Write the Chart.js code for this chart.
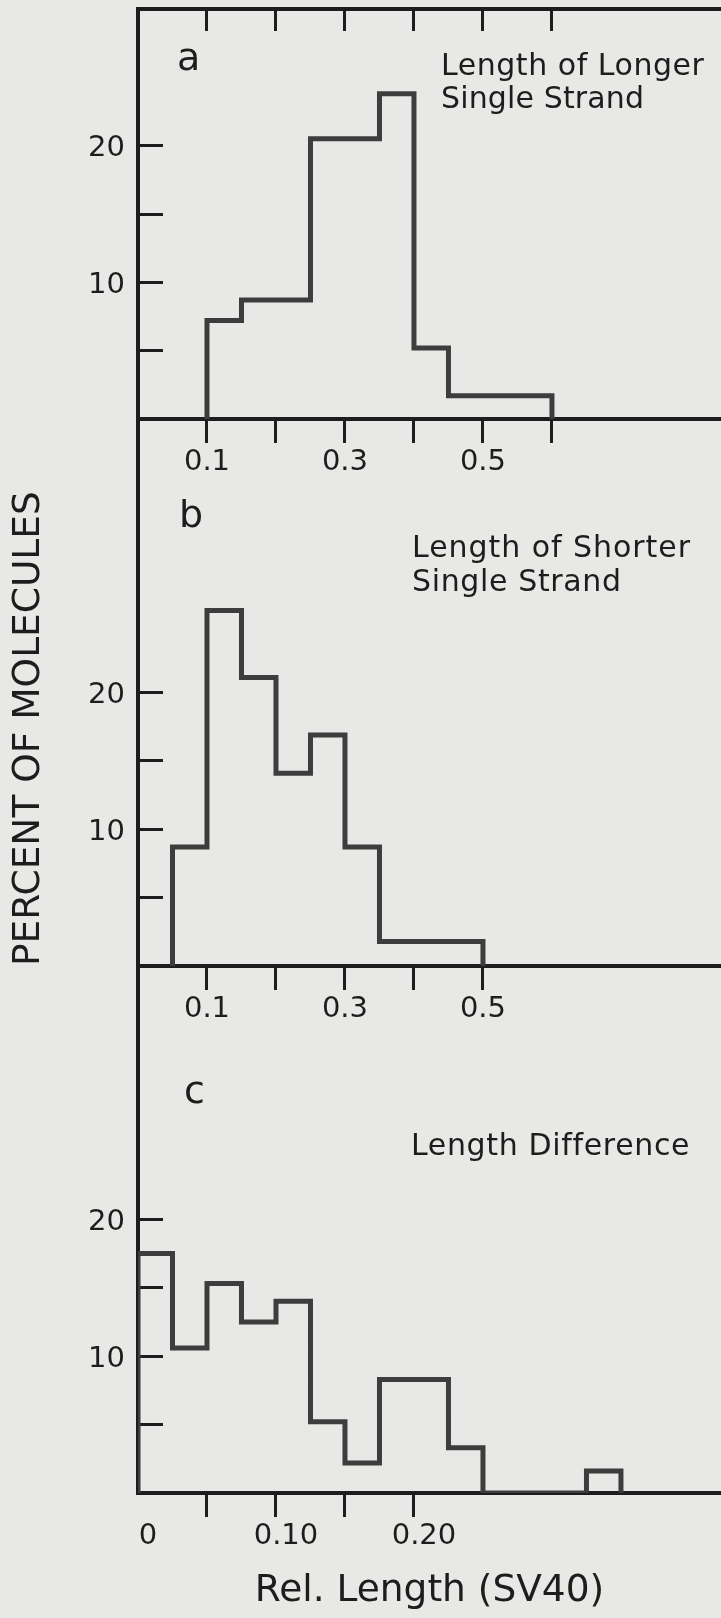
<!DOCTYPE html>
<html>
<head>
<meta charset="utf-8">
<title>Single strand lengths</title>
<script src="https://cdn.jsdelivr.net/npm/chart.js@4.4.1/dist/chart.umd.min.js"></script>
<style>
  html, body { margin: 0; padding: 0; background: #e8e8e6; overflow: hidden; }
  #wrap { position: relative; width: 721px; height: 1618px; }
  #wrap canvas { position: absolute; left: 0; top: 0; }
</style>
</head>
<body>
<div id="wrap">
  <canvas id="panelA" width="721" height="1618"></canvas>
  <canvas id="panelB" width="721" height="1618"></canvas>
  <canvas id="panelC" width="721" height="1618"></canvas>
</div>
<script>
// --- data (percent of molecules per bin) ---

// a: length of longer single strand, bins 0.05 wide (left edges)
const binsA = [0.10, 0.15, 0.20, 0.25, 0.30, 0.35, 0.40, 0.45, 0.50, 0.55];
const percentA = [7.2, 8.7, 8.7, 20.5, 20.5, 23.8, 5.2, 1.7, 1.7, 1.7];
const binWidthA = 0.05;

// b: length of shorter single strand
const binsB = [0.05, 0.10, 0.15, 0.20, 0.25, 0.30, 0.35, 0.40, 0.45];
const percentB = [8.7, 26.0, 21.1, 14.1, 16.9, 8.7, 1.8, 1.8, 1.8];
const binWidthB = 0.05;

// c: length difference, bins 0.025 wide
const binsC = [0, 0.025, 0.05, 0.075, 0.10, 0.125, 0.15, 0.175, 0.20, 0.225, 0.25, 0.275, 0.30, 0.325];
const percentC = [17.5, 10.6, 15.3, 12.5, 14.0, 5.2, 2.2, 8.3, 8.3, 3.3, 0, 0, 0, 1.6];
const binWidthC = 0.025;

// tick marks and the labels shown on them
const xTicksA = [0.1, 0.2, 0.3, 0.4, 0.5, 0.6];
const xTicksB = [0.1, 0.2, 0.3, 0.4, 0.5];
const xTicksC = [0, 0.05, 0.10, 0.15, 0.20];
const xLabelsAB = ['0.1', '0.3', '0.5'];
const xLabelsC = ['0', '0.10', '0.20'];
const yTicks = [5, 10, 15, 20];
const yLabels = ['10', '20'];

// --- look ---
const FONT = "'DejaVu Sans', sans-serif";
const ink = '#1d1d1d';
const barInk = '#3d3d3d';
const H = 1618;
const FRAME_LEFT = 138;
const TICK_FONT = 29;

// histogram outline as a stepped line: up at the first edge, down at the last
function outline(bins, values, w) {
  const pts = [{ x: bins[0], y: 0 }];
  bins.forEach((b, i) => pts.push({ x: b, y: values[i] }));
  pts.push({ x: bins[bins.length - 1] + w, y: 0 });
  return pts;
}

function zeroPad(s) {
  s.paddingTop = 0; s.paddingBottom = 0; s.paddingLeft = 0; s.paddingRight = 0;
}

// panel letters and captions
const panelText = {
  id: 'panelText',
  afterDraw(chart, args, opts) {
    const ctx = chart.ctx;
    (opts.items || []).forEach(t => {
      ctx.save();
      ctx.font = t.size + 'px ' + FONT;
      ctx.fillStyle = ink;
      ctx.textBaseline = 'alphabetic';
      ctx.textAlign = 'left';
      if (t.width) {
        const w0 = ctx.measureText(t.text).width;
        const n = t.text.length;
        if ('letterSpacing' in ctx) {
          ctx.letterSpacing = ((t.width - w0) / (n - 1)).toFixed(2) + 'px';
          ctx.fillText(t.text, t.x, t.y);
        } else {
          ctx.translate(t.x, t.y);
          ctx.scale(t.width / w0, 1);
          ctx.fillText(t.text, 0, 0);
        }
      } else {
        ctx.fillText(t.text, t.x, t.y);
      }
      ctx.restore();
    });
  }
};

function makePanel(id, o) {
  const scales = {
    x: {
      type: 'linear', position: 'bottom', min: 0, max: o.xMax,
      afterBuildTicks: s => { s.ticks = o.xTicks.map(v => ({ value: v })); },
      afterFit: s => { s.height = H - o.bottom; zeroPad(s); },
      grid: {
        drawOnChartArea: false, drawTicks: true, tickLength: 24, tickWidth: 3,
        tickColor: c => (c.tick && c.tick.value === 0) ? 'rgba(0,0,0,0)' : ink
      },
      border: { display: true, color: ink, width: 4 },
      ticks: {
        autoSkip: false, maxRotation: 0, minRotation: 0, padding: 2,
        labelOffset: o.labelOffset || 0, color: ink,
        font: { family: FONT, size: TICK_FONT },
        callback: v => { const s = o.fmt(v); return o.xLabels.includes(s) ? s : ''; }
      },
      title: o.xTitle ? {
        display: true, text: o.xTitle, color: ink,
        font: { family: FONT, size: 37.5, lineHeight: 1.2 },
        padding: { top: 0, bottom: 4 }
      } : { display: false }
    },
    y: {
      type: 'linear', position: 'left', min: 0, max: o.yMax,
      afterBuildTicks: s => { s.ticks = yTicks.map(v => ({ value: v })); },
      afterFit: s => { s.width = FRAME_LEFT; zeroPad(s); },
      // negative length turns the tick marks inward
      grid: { drawOnChartArea: false, drawTicks: true, tickLength: -25, tickWidth: 3, tickColor: ink },
      border: { display: true, color: ink, width: 4 },
      ticks: {
        padding: 38, labelOffset: 3, color: ink,
        font: { family: FONT, size: TICK_FONT },
        callback: v => yLabels.includes(String(v)) ? String(v) : ''
      },
      title: o.yTitle ? {
        display: true, text: o.yTitle, align: 'start', color: ink,
        font: { family: FONT, size: 37.5, lineHeight: 1.2 },
        padding: { top: 7, bottom: 0 }
      } : { display: false }
    }
  };
  if (o.topFrame) {
    scales.xTop = {
      type: 'linear', position: 'top', min: 0, max: o.xMax,
      afterBuildTicks: s => { s.ticks = o.topFrame.map(v => ({ value: v })); },
      afterFit: s => { s.height = 0; zeroPad(s); },
      grid: { drawOnChartArea: false, drawTicks: true, tickLength: -22, tickWidth: 3, tickColor: ink },
      border: { display: true, color: ink, width: 4 },
      ticks: { display: false }
    };
  }
  return new Chart(document.getElementById(id), {
    type: 'line',
    data: {
      datasets: [{
        data: outline(o.bins, o.values, o.binWidth),
        stepped: true,
        borderColor: barInk,
        borderWidth: 5,
        borderJoinStyle: 'miter',
        borderCapStyle: 'butt',
        pointRadius: 0,
        fill: false
      }]
    },
    options: {
      responsive: false,
      animation: false,
      devicePixelRatio: 1,
      layout: { autoPadding: false, padding: { top: o.top, left: 0, right: 0, bottom: 0 } },
      plugins: {
        legend: { display: false },
        tooltip: { enabled: false },
        panelText: { items: o.texts }
      },
      scales: scales
    },
    plugins: [panelText]
  });
}

const fmt1 = v => v.toFixed(1);
const fmtC = v => v === 0 ? '0' : v.toFixed(2);

makePanel('panelA', {
  bins: binsA, values: percentA, binWidth: binWidthA,
  top: 9, bottom: 419, yMax: 30, xMax: 0.845,
  xTicks: xTicksA, xLabels: xLabelsAB, fmt: fmt1, topFrame: xTicksA,
  texts: [
    { text: 'a', x: 177, y: 70, size: 38 },
    { text: 'Length of Longer', x: 441, y: 75, size: 30, width: 263 },
    { text: 'Single Strand', x: 441, y: 108, size: 30, width: 203 }
  ]
});

makePanel('panelB', {
  bins: binsB, values: percentB, binWidth: binWidthB,
  top: 419, bottom: 966, yMax: 40, xMax: 0.845,
  xTicks: xTicksB, xLabels: xLabelsAB, fmt: fmt1,
  yTitle: 'PERCENT OF MOLECULES',
  texts: [
    { text: 'b', x: 179, y: 527, size: 38 },
    { text: 'Length of Shorter', x: 412, y: 557, size: 30, width: 278 },
    { text: 'Single Strand', x: 412, y: 591, size: 30, width: 209 }
  ]
});

makePanel('panelC', {
  bins: binsC, values: percentC, binWidth: binWidthC,
  top: 966, bottom: 1493, yMax: 38.5, xMax: 0.4225,
  xTicks: xTicksC, xLabels: xLabelsC, fmt: fmtC, labelOffset: 10,
  xTitle: 'Rel. Length (SV40)',
  texts: [
    { text: 'c', x: 184, y: 1103, size: 38 },
    { text: 'Length Difference', x: 411, y: 1155, size: 30, width: 278 }
  ]
});
</script>
</body>
</html>
